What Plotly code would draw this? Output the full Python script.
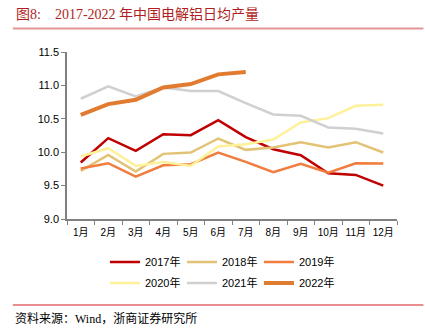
import plotly.graph_objects as go

months = ["1月", "2月", "3月", "4月", "5月", "6月", "7月", "8月", "9月", "10月", "11月", "12月"]
y2017 = [9.845, 10.21, 10.02, 10.27, 10.255, 10.48, 10.225, 10.045, 9.955, 9.685, 9.66, 9.50]
y2018 = [9.72, 9.96, 9.71, 9.975, 9.995, 10.205, 10.035, 10.07, 10.15, 10.07, 10.15, 9.995]
y2019 = [9.755, 9.835, 9.635, 9.805, 9.82, 9.995, 9.855, 9.70, 9.825, 9.695, 9.835, 9.83]
y2020 = [9.935, 10.06, 9.795, 9.855, 9.795, 10.085, 10.12, 10.19, 10.445, 10.51, 10.695, 10.71]
y2021 = [10.80, 10.985, 10.835, 10.97, 10.915, 10.915, 10.735, 10.565, 10.545, 10.37, 10.35, 10.28]
y2022 = [10.56, 10.72, 10.785, 10.97, 11.02, 11.165, 11.20]

series = [
    ("2017年", y2017, "#C00000", 2.5, "legend"),
    ("2018年", y2018, "#E2C275", 2.5, "legend"),
    ("2019年", y2019, "#F07C3E", 2.5, "legend"),
    ("2020年", y2020, "#FFF09A", 2.5, "legend2"),
    ("2021年", y2021, "#D0D0D0", 2.5, "legend2"),
    ("2022年", y2022, "#E07B30", 4, "legend2"),
]

fig = go.Figure()
for name, ys, color, w, lg in series:
    fig.add_trace(go.Scatter(
        x=months[:len(ys)], y=ys, mode="lines", name=name,
        line=dict(color=color, width=w), legend=lg,
    ))

font_sans = "Liberation Sans, Arial, Noto Sans CJK SC, sans-serif"
leg_common = dict(orientation="h", x=0.115, xanchor="left", yanchor="middle",
                  font=dict(size=11), entrywidth=32, entrywidthmode="pixels",
                  itemwidth=30, tracegroupgap=0, bgcolor="rgba(0,0,0,0)")
fig.update_layout(
    width=425, height=330,
    margin=dict(l=67, r=28, t=52, b=111),
    paper_bgcolor="white", plot_bgcolor="white",
    font=dict(family=font_sans, size=11, color="#000"),
    showlegend=True,
    legend=dict(y=-0.257, **leg_common),
    legend2=dict(y=-0.383, **leg_common),
    xaxis=dict(
        type="category", range=[-0.5, 11.5], tickson="boundaries",
        ticks="outside", ticklen=4, tickcolor="#808080", tickangle=0,
        showline=True, linecolor="#808080", linewidth=1.5,
        showgrid=False, tickfont=dict(size=10), ticklabelstandoff=3,
    ),
    yaxis=dict(
        range=[9.0, 11.5], dtick=0.5, tickformat=".1f",
        ticks="outside", ticklen=4, tickcolor="#808080",
        showline=True, linecolor="#808080", linewidth=1.5,
        showgrid=False, zeroline=False, tickfont=dict(size=11),
    ),
)

fig.add_annotation(
    xref="paper", yref="paper", x=-0.16, y=1.225, xanchor="left", yanchor="middle",
    text="图8:    2017-2022 年中国电解铝日均产量", showarrow=False,
    font=dict(family="Liberation Serif, Noto Sans CJK SC, serif", size=14, color="#B01E23"),
)
fig.add_annotation(
    xref="paper", yref="paper", x=-0.165, y=-0.595, xanchor="left", yanchor="middle",
    text="资料来源：Wind，浙商证券研究所", showarrow=False,
    font=dict(family="Liberation Serif, Noto Sans CJK SC, serif", size=12, color="#000"),
)
# title underline
fig.add_shape(type="line", xref="paper", yref="paper", x0=-0.164, x1=1.08, y0=1.14, y1=1.14,
              line=dict(color="#E39595", width=2))
# bottom rule
fig.add_shape(type="line", xref="paper", yref="paper", x0=-0.164, x1=1.08, y0=-0.515, y1=-0.515,
              line=dict(color="#D02020", width=1.2))

fig.write_html("out.html")
